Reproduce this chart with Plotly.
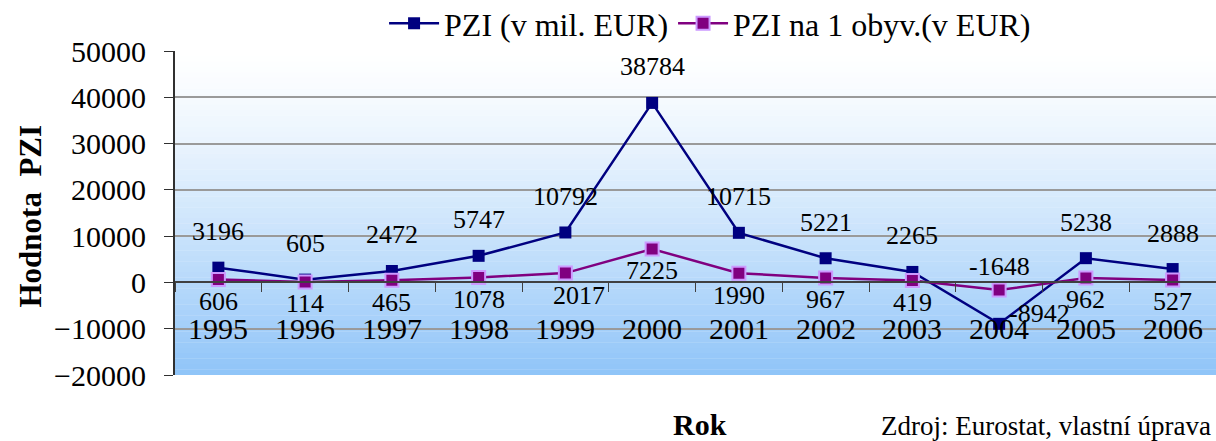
import plotly.graph_objects as go

# data
roky = ['1995', '1996', '1997', '1998', '1999', '2000',
        '2001', '2002', '2003', '2004', '2005', '2006']
pzi_mil = [3196, 605, 2472, 5747, 10792, 38784, 10715, 5221, 2265, -8942, 5238, 2888]
pzi_obyv = [606, 114, 465, 1078, 2017, 7225, 1990, 967, 419, -1648, 962, 527]
y_ticks = [-20000, -10000, 0, 10000, 20000, 30000, 40000, 50000]

FONT = "Liberation Serif"
y_min, y_max = -20000, 50000

fig = go.Figure()

fig.add_trace(go.Scatter(
    x=roky, y=pzi_mil, name="PZI (v mil. EUR)", mode="lines+markers",
    line=dict(color="#000080", width=2.5),
    marker=dict(symbol="square", size=12, color="#000080"),
))
fig.add_trace(go.Scatter(
    x=roky, y=pzi_obyv, name="PZI na 1 obyv.(v EUR)", mode="lines+markers",
    line=dict(color="#800080", width=2.5),
    marker=dict(symbol="square", size=13, color="#800080",
                line=dict(color="#CC99FF", width=2)),
))

# background gradient: white at top to light blue at bottom
n_strips = 60
top_rgb = (255, 255, 255)
bot_rgb = (143, 196, 248)
for i in range(n_strips):
    t = ((i + 0.5) / n_strips) ** 1.3
    c = tuple(int(round(top_rgb[k] + (bot_rgb[k] - top_rgb[k]) * t)) for k in range(3))
    fig.add_shape(type="rect", xref="x domain", yref="y domain",
                  x0=0, x1=1, y0=1 - (i + 1) / n_strips, y1=1 - i / n_strips + 0.001,
                  fillcolor="rgb(%d,%d,%d)" % c, line_width=0, layer="below")

annotations = []
# data labels (category axis -> annotation x given as category index)
for i, (r, v) in enumerate(zip(roky, pzi_mil)):
    xs, ys = 0, 36
    if r == '2004':
        xs, ys = 40, 10
    annotations.append(dict(xref="x", yref="y", x=i, y=v, text=str(v), showarrow=False,
                            xshift=xs, yshift=ys,
                            font=dict(family=FONT, size=26, color="black")))
for i, (r, v) in enumerate(zip(roky, pzi_obyv)):
    xs, ys = 0, -22
    if r == '2004':
        ys = 24
    if r == '1999':
        xs = 14
    annotations.append(dict(xref="x", yref="y", x=i, y=v, text=str(v), showarrow=False,
                            xshift=xs, yshift=ys,
                            font=dict(family=FONT, size=26, color="black")))
# category labels sit at the -10000 level as in the original
for i, r in enumerate(roky):
    annotations.append(dict(xref="x", yref="y", x=i, y=-10000, text=r, showarrow=False,
                            font=dict(family=FONT, size=30, color="black")))

annotations.append(dict(xref="paper", yref="paper", x=-0.139, y=0.49, xanchor="center",
                        yanchor="middle", text="<b>Hodnota  PZI</b>",
                        textangle=-90, showarrow=False,
                        font=dict(family=FONT, size=31, color="black")))
annotations.append(dict(xref="paper", yref="paper", x=0.504, y=-0.152, xanchor="center",
                        yanchor="middle", text="<b>Rok</b>",
                        showarrow=False, font=dict(family=FONT, size=30, color="black")))
annotations.append(dict(xref="paper", yref="paper", x=0.997, y=-0.157, xanchor="right",
                        yanchor="middle", text="Zdroj: Eurostat, vlastní úprava", showarrow=False,
                        font=dict(family=FONT, size=27, color="black")))

fig.update_layout(
    width=1216, height=441,
    margin=dict(l=175, r=0, t=51, b=66, autoexpand=False),
    paper_bgcolor="white", plot_bgcolor="white",
    font=dict(family=FONT, size=30, color="black"),
    showlegend=True,
    legend=dict(orientation="h", x=0.514, xanchor="center", y=1.085, yanchor="middle",
                font=dict(family=FONT, size=32), bgcolor="rgba(0,0,0,0)",
                itemwidth=50, tracegroupgap=0),
    annotations=annotations,
    xaxis=dict(type="category", range=[-0.5, 11.5], anchor="free",
               position=(0 - y_min) / (y_max - y_min),
               showline=True, linecolor="#404040", linewidth=2,
               ticks="outside", tickson="boundaries", ticklen=9, tickcolor="#404040",
               showticklabels=False, showgrid=False, zeroline=False),
    yaxis=dict(range=[y_min, y_max], tickvals=y_ticks, tickformat="d", ticks="outside",
               ticklen=9, tickcolor="#303030", showline=True, linecolor="#303030", linewidth=2,
               showgrid=True, gridcolor="#9a9a9a", gridwidth=1.5, zeroline=False,
               tickfont=dict(family=FONT, size=30), ticklabelstandoff=12),
)

# drop the browser's default 8px body margin so the figure fills the window exactly
fig.write_html("out.html", config={"displayModeBar": False},
               post_script="document.body.style.margin='0';")
